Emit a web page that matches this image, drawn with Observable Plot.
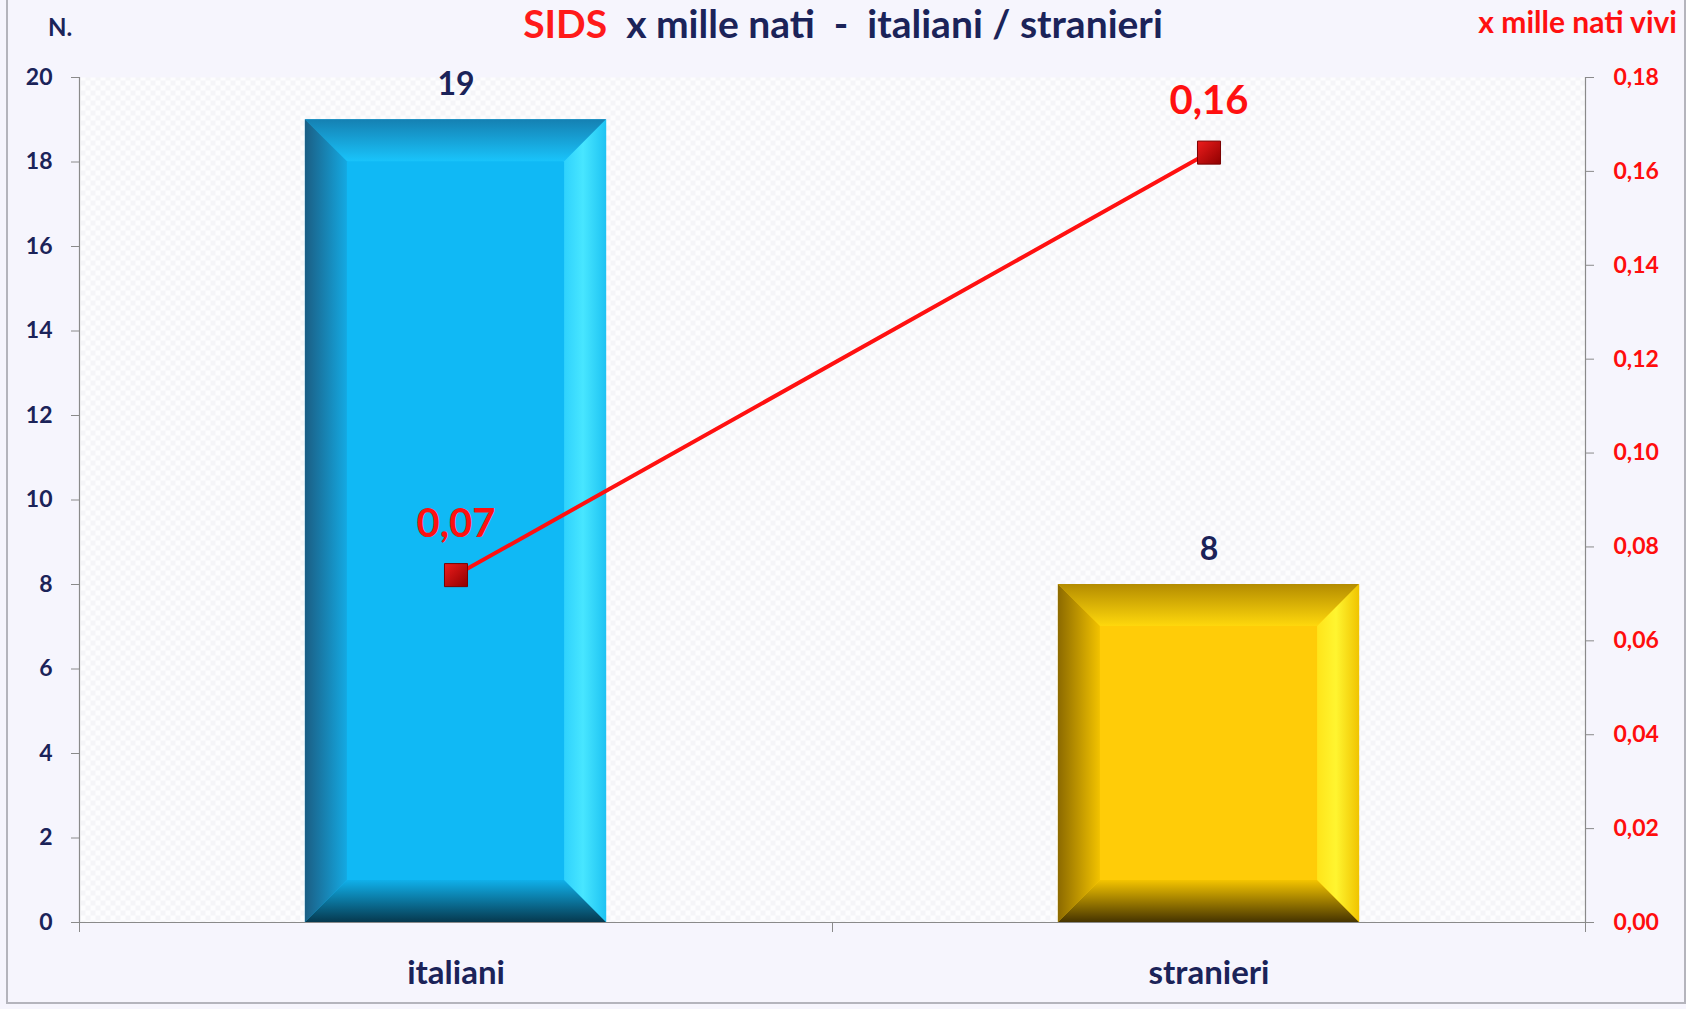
<!DOCTYPE html>
<html><head><meta charset="utf-8">
<script src="https://cdn.jsdelivr.net/npm/d3@7"></script>
<script src="https://cdn.jsdelivr.net/npm/@observablehq/plot@0.6"></script>
<style>
body{margin:0;background:#f6f5fd;}
#wrap{position:relative;width:1686px;height:1009px;overflow:hidden;font-family:Lato,"Open Sans",sans-serif;background:#f6f5fd;}
#border{position:absolute;left:6px;top:-2px;width:1676px;height:1004px;border:2px solid #b4b4bc;border-top:none;}
#title{position:absolute;left:0;width:1686px;top:0px;line-height:46px;text-align:center;font-size:39px;font-weight:bold;color:#1b2359;white-space:pre;}
#title .r{color:#ff1a1a;}
#nlab{position:absolute;left:48px;top:12px;line-height:30px;font-size:24px;font-weight:bold;color:#1b2359;}
#rlab{position:absolute;right:9px;top:2px;line-height:38px;font-size:30px;font-weight:bold;color:#ff1010;white-space:pre;}
#chart{position:absolute;left:0;top:0;}
</style></head><body>
<div id="wrap">
<svg width="0" height="0" style="position:absolute">
<defs>
<pattern id="checker" width="10" height="10" patternUnits="userSpaceOnUse">
<rect width="10" height="10" fill="#fdfdfe"/><rect width="5" height="5" fill="#f5f5f8"/><rect x="5" y="5" width="5" height="5" fill="#f5f5f8"/>
</pattern>
<linearGradient id="sq" x1="0" y1="0" x2="1" y2="1"><stop offset="0" stop-color="#ee1c1c"/><stop offset="1" stop-color="#8e0000"/></linearGradient>
<linearGradient id="b-top" x1="0" y1="0" x2="0" y2="1"><stop offset="0" stop-color="#1580b2"/><stop offset="1" stop-color="#19c4fb"/></linearGradient>
<linearGradient id="b-left" x1="0" y1="0" x2="1" y2="0"><stop offset="0" stop-color="#1b5e84"/><stop offset="1" stop-color="#14a9e2"/></linearGradient>
<linearGradient id="b-right" x1="0" y1="0" x2="1" y2="0"><stop offset="0" stop-color="#2fd2fd"/><stop offset="0.45" stop-color="#48e6ff"/><stop offset="1" stop-color="#1ec3f3"/></linearGradient>
<linearGradient id="b-bot" x1="0" y1="0" x2="0" y2="1"><stop offset="0" stop-color="#10b0ea"/><stop offset="1" stop-color="#06394f"/></linearGradient>
<linearGradient id="y-top" x1="0" y1="0" x2="0" y2="1"><stop offset="0" stop-color="#b48c00"/><stop offset="1" stop-color="#ffd80c"/></linearGradient>
<linearGradient id="y-left" x1="0" y1="0" x2="1" y2="0"><stop offset="0" stop-color="#8c6a00"/><stop offset="1" stop-color="#f2c200"/></linearGradient>
<linearGradient id="y-right" x1="0" y1="0" x2="1" y2="0"><stop offset="0" stop-color="#ffe41a"/><stop offset="0.45" stop-color="#fff530"/><stop offset="1" stop-color="#f0c400"/></linearGradient>
<linearGradient id="y-bot" x1="0" y1="0" x2="0" y2="1"><stop offset="0" stop-color="#f4c400"/><stop offset="1" stop-color="#463400"/></linearGradient>
</defs>
</svg>
<div id="border"></div>
<div id="chart"></div>
<div id="title"><span class="r">SIDS</span>  x mille nati  -  italiani / stranieri</div>
<div id="nlab">N.</div>
<div id="rlab">x mille nati vivi</div>
</div>
<script>
// ---- data ----
const categories = ["italiani", "stranieri"];
const counts = [19, 8];
const rates = [0.074, 0.164];          // x mille nati vivi
const leftTicks = [0, 2, 4, 6, 8, 10, 12, 14, 16, 18, 20];
const rightTicks = [0, 0.02, 0.04, 0.06, 0.08, 0.10, 0.12, 0.14, 0.16, 0.18];

const barFills = ["#10b9f5", "#ffcc08"];
const bevelIds = ["b", "y"];
const navy = "#1b2359";
const k = 20 / 0.18; // right axis -> left axis units
const comma = v => v.toFixed(2).replace(".", ",");

const data = categories.map((c, i) => ({c, i, n: counts[i], r: rates[i]}));
const cx = d => d.i + 0.5;

const plot = Plot.plot({
  width: 1686, height: 1009,
  marginTop: 77, marginBottom: 87, marginLeft: 79, marginRight: 101,
  style: {fontFamily: "Lato, 'Open Sans', sans-serif", background: "transparent", overflow: "visible"},
  x: {domain: [0, categories.length]},
  y: {domain: [0, 20]},
  marks: [
    Plot.frame({fill: "url(#checker)", stroke: "none"}),
    ...data.map((d, j) => Plot.rectY([d], {
      x1: e => e.i + 0.3, x2: e => e.i + 0.7, y1: 0, y2: "n",
      fill: barFills[j]
    })),
    Plot.ruleY([0], {stroke: "#8a8a8a", strokeWidth: 1.2}),
    Plot.ruleX([0, categories.length], {stroke: "#8a8a8a", strokeWidth: 1.2}),
    Plot.axisX({ticks: d3.range(categories.length + 1), tickSize: 10, tickFormat: () => "", stroke: "#8a8a8a"}),
    Plot.axisY({ticks: leftTicks, tickSize: 8, tickPadding: 19, stroke: "#8a8a8a", fill: navy,
      fontSize: 23, fontWeight: "bold", label: null, tickFormat: d => String(d)}),
    Plot.axisY({anchor: "right", ticks: rightTicks.map(v => v * k), tickSize: 8, tickPadding: 20,
      stroke: "#8a8a8a", fill: "#ff0d0d", fontSize: 23, fontWeight: "bold", label: null,
      tickFormat: d => comma(d / k)}),
    Plot.text(data, {x: cx, y: 0, text: "c", dy: 51, fill: navy, fontSize: 33, fontWeight: "bold"}),
    Plot.text(data, {x: cx, y: "n", text: d => String(d.n), dy: -35, fill: navy, fontSize: 32, fontWeight: "bold"}),
    Plot.line(data, {x: cx, y: d => d.r * k, stroke: "#ff1010", strokeWidth: 4}),
    Plot.dot(data, {x: cx, y: d => d.r * k, symbol: "square", r: 13, fill: "url(#sq)", stroke: "#7a0000", strokeWidth: 1}),
    Plot.text(data, {x: cx, y: d => d.r * k, text: d => comma(d.r), dy: -51, fill: "#ff1010", fontSize: 40, fontWeight: "bold"})
  ]
});
document.getElementById("chart").appendChild(plot);

// bevel decoration derived from the rendered bars (found by their fill colour)
try {
  const rects = Array.from(plot.querySelectorAll("rect"));
  barFills.forEach((col, j) => {
    const target = d3.color(col).formatRgb();
    const r = rects.find(el => {
      const f = getComputedStyle(el).fill;
      return f && d3.color(f) && d3.color(f).formatRgb() === target;
    });
    if (!r) return;
    const x = +r.getAttribute("x"), y = +r.getAttribute("y"), w = +r.getAttribute("width"), h = +r.getAttribute("height");
    const b = 42, id = bevelIds[j];
    const g = d3.select(r.parentNode);
    const poly = (pts, f) => g.append("polygon").attr("points", pts.map(p => p.join(",")).join(" ")).attr("fill", `url(#${id}-${f})`).attr("stroke", "none");
    poly([[x, y], [x + w, y], [x + w - b, y + b], [x + b, y + b]], "top");
    poly([[x, y + h], [x + b, y + h - b], [x + w - b, y + h - b], [x + w, y + h]], "bot");
    poly([[x, y], [x + b, y + b], [x + b, y + h - b], [x, y + h]], "left");
    poly([[x + w, y], [x + w, y + h], [x + w - b, y + h - b], [x + w - b, y + b]], "right");
  });
} catch (e) { console.log(e); }
</script>
</body></html>
